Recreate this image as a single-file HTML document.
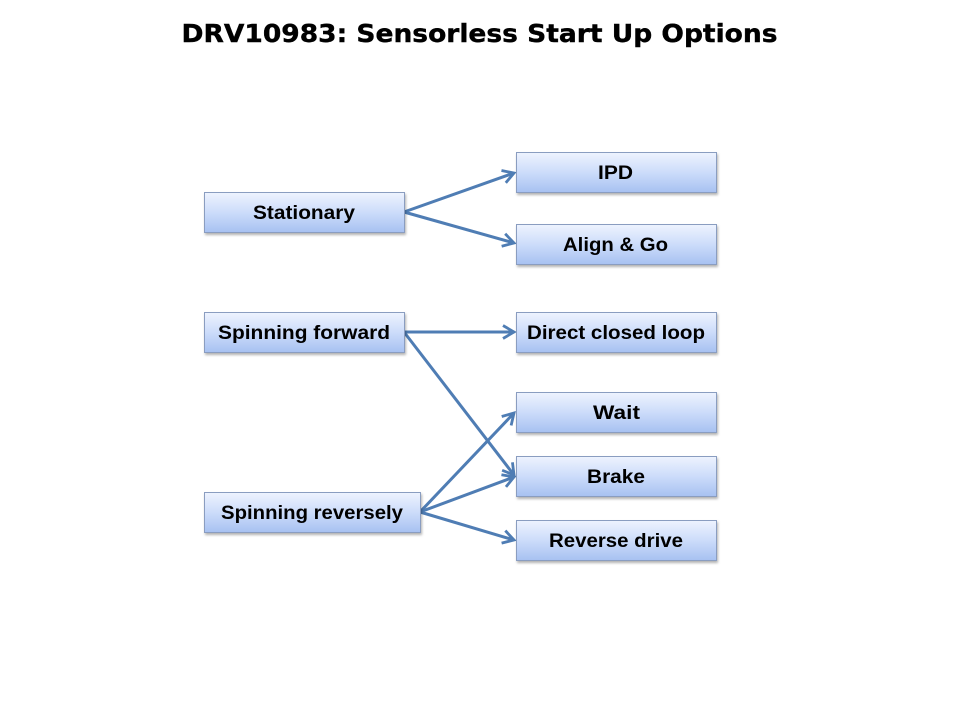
<!DOCTYPE html>
<html>
<head>
<meta charset="utf-8">
<style>
html,body{margin:0;padding:0;background:#fff;}
svg{display:block;}
</style>
</head>
<body>
<svg width="960" height="720" viewBox="0 0 960 720" xmlns="http://www.w3.org/2000/svg">
<defs>
<linearGradient id="g" x1="0" y1="0" x2="0" y2="1">
<stop offset="0" stop-color="#eef3fe"/>
<stop offset="0.5" stop-color="#ccdcfa"/>
<stop offset="1" stop-color="#a7c1f1"/>
</linearGradient>
<marker id="ah" markerWidth="16" markerHeight="16" refX="13" refY="8" orient="auto" markerUnits="userSpaceOnUse">
<path d="M2,1.5 L13,8 L2,14.5" fill="none" stroke="#4f7db4" stroke-width="2.8" stroke-linejoin="miter"/>
</marker>
<filter id="sh" x="-5%" y="-10%" width="110%" height="140%">
<feDropShadow dx="1" dy="2" stdDeviation="1.2" flood-color="#000" flood-opacity="0.3"/>
</filter>
</defs>

<text x="181.5" y="42" font-family="DejaVu Sans, Verdana, sans-serif" font-weight="bold" font-size="25" textLength="596" lengthAdjust="spacingAndGlyphs" fill="#000" stroke="#000" stroke-width="0.4">DRV10983: Sensorless Start Up Options</text>

<!-- connectors -->
<g stroke="#4f7db4" stroke-width="3" fill="none" marker-end="url(#ah)">
<line x1="404" y1="212" x2="514" y2="173"/>
<line x1="404" y1="212" x2="514" y2="243"/>
<line x1="404" y1="332" x2="514" y2="332"/>
<line x1="404" y1="332" x2="514" y2="475"/>
<line x1="420" y1="512" x2="514" y2="413"/>
<line x1="420" y1="512" x2="514" y2="477"/>
<line x1="420" y1="512" x2="514" y2="540"/>
</g>

<!-- boxes -->
<g stroke="#8a9dc0" stroke-width="1" fill="url(#g)" filter="url(#sh)">
<rect x="204.5" y="192.5" width="200" height="40"/>
<rect x="516.5" y="152.5" width="200" height="40"/>
<rect x="516.5" y="224.5" width="200" height="40"/>
<rect x="204.5" y="312.5" width="200" height="40"/>
<rect x="516.5" y="312.5" width="200" height="40"/>
<rect x="516.5" y="392.5" width="200" height="40"/>
<rect x="516.5" y="456.5" width="200" height="40"/>
<rect x="516.5" y="520.5" width="200" height="40"/>
<rect x="204.5" y="492.5" width="216" height="40"/>
</g>

<g font-family="Liberation Sans, Arial, sans-serif" font-weight="bold" font-size="19" fill="#000">
<text x="253" y="219" textLength="102" lengthAdjust="spacingAndGlyphs">Stationary</text>
<text x="598" y="179" textLength="35" lengthAdjust="spacingAndGlyphs">IPD</text>
<text x="563" y="251" textLength="105" lengthAdjust="spacingAndGlyphs">Align &amp; Go</text>
<text x="218" y="339" textLength="172" lengthAdjust="spacingAndGlyphs">Spinning forward</text>
<text x="527" y="339" textLength="178" lengthAdjust="spacingAndGlyphs">Direct closed loop</text>
<text x="593" y="419" textLength="47" lengthAdjust="spacingAndGlyphs">Wait</text>
<text x="587" y="483" textLength="58" lengthAdjust="spacingAndGlyphs">Brake</text>
<text x="549" y="547" textLength="134" lengthAdjust="spacingAndGlyphs">Reverse drive</text>
<text x="221" y="519" textLength="182" lengthAdjust="spacingAndGlyphs">Spinning reversely</text>
</g>
</svg>
</body>
</html>
